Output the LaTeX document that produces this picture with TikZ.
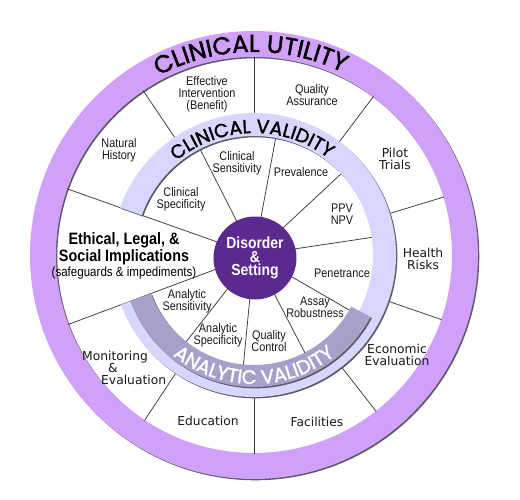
\documentclass[tikz,border=0pt]{standalone}
\usepackage{fontspec}
\usetikzlibrary{decorations.text}
\newfontfamily\arialn[FakeStretch=0.87]{Liberation Sans}
\newfontfamily\verd{DejaVu Sans}
\newfontfamily\geo[FakeBold=1.6]{Poppins}
\definecolor{utilcol}{RGB}{208,160,250}
\definecolor{valcol}{RGB}{214,214,255}
\definecolor{anacol}{RGB}{168,160,202}
\definecolor{discol}{RGB}{92,42,142}
\definecolor{spokecol}{RGB}{60,60,60}
\definecolor{shadecol}{RGB}{90,90,100}
\begin{document}
\begin{tikzpicture}[x=1pt,y=1pt,
  lab/.style={font=\arialn\fontsize{12.5}{12}\selectfont, align=center, inner sep=0pt, text=black!90},
  vlab/.style={font=\verd\fontsize{12.3}{12}\selectfont, align=center, inner sep=0pt, text=black!90},
  spoke/.style={draw=spokecol, line width=0.75pt},
  shade/.style={fill=shadecol, shift={(1.3,-1.3)}}]
\fill[white] (-254,-244) rectangle (266,255);
\useasboundingbox (-254,-244) rectangle (266,255);
% outer ring (clinical utility)
\fill[shade, even odd rule] (0,0) circle (224) (0,0) circle (198);
\fill[utilcol, even odd rule] (0,0) circle (224) (0,0) circle (198);
% spokes
\foreach \a in {124,90,53,17,-19,-52,-90,236.5} \draw[spoke] (\a:130) -- (\a:198.5);
\foreach \a in {160.5,200.5} \draw[spoke] (\a:30) -- (\a:198.5);
\foreach \a in {117,79.5,43,8.5,-30,-62.5,-95.5,232} \draw[spoke] (\a:30) -- (\a:125);
% clinical validity ring
\fill[shade] (-159.5:142) arc[start angle=-159.5, end angle=160.5, radius=142] -- (160.5:119) arc[start angle=160.5, end angle=-159.5, radius=119] -- cycle;
\fill[valcol] (-159.5:142) arc[start angle=-159.5, end angle=160.5, radius=142] -- (160.5:119) arc[start angle=160.5, end angle=-159.5, radius=119] -- cycle;
% analytic validity band
\fill[shade] (200.5:132) arc[start angle=200.5, end angle=332, radius=132] -- (332:110) arc[start angle=332, end angle=200.5, radius=110] -- cycle;
\fill[anacol] (200.5:132) arc[start angle=200.5, end angle=332, radius=132] -- (332:110) arc[start angle=332, end angle=200.5, radius=110] -- cycle;
% centre
\node[circle, fill=discol, minimum size=83pt, inner sep=0pt, font=\arialn\bfseries\fontsize{16}{13.5}\selectfont, text=white, align=center] (dis) at (1,-3) {Disorder\\\&\\Setting};
% arc titles
\path[decorate, decoration={text along path, text align=center, text={|\geo\fontsize{24.5}{24.5}\selectfont|CLINICAL UTILITY}}] (150:203) arc[start angle=150, end angle=32, radius=203];
\path[decorate, decoration={text along path, text align=center, text={|\geo\fontsize{19}{19}\selectfont|CLINICAL VALIDITY}}] (150:122) arc[start angle=150, end angle=32, radius=122];
\path[decorate, decoration={text along path, text align=center, text color=white, text={|\geo\fontsize{19.5}{19.5}\selectfont|ANALYTIC VALIDITY}}] (210:129) arc[start angle=210, end angle=330, radius=129];
% labels
\node[lab] (effint) at (-47,161) {Effective\\Intervention\\(Benefit)};
\node[lab] (qa) at (58,160) {Quality\\Assurance};
\node[lab] (nh) at (-135,105) {Natural\\History};
\node[vlab] (pt) at (141,96) {Pilot\\Trials};
\node[lab] (csens) at (-17,92) {Clinical\\Sensitivity};
\node[lab] (prev) at (47,83) {Prevalence};
\node[lab] (cspec) at (-73,56) {Clinical\\Specificity};
\node[lab] (ppv) at (88,41) {PPV\\NPV};
\node[vlab] (hr) at (169,-4) {Health\\Risks};
\node[lab] (pen) at (88,-18) {Penetrance};
\node[lab] (asens) at (-67,-46) {Analytic\\Sensitivity};
\node[lab] (assay) at (61,-52) {Assay\\Robustness};
\node[lab] (aspec) at (-36,-80) {Analytic\\Specificity};
\node[lab] (qc) at (15,-86) {Quality\\Control};
\node[vlab] (econ) at (143,-100) {Economic\\Evaluation};
\node[vlab, align=left, anchor=west] (mon) at (-172,-113) {Monitoring\\\hspace*{26pt}\&\\\hspace*{19pt}Evaluation};
\node[vlab] (edu) at (-46,-166) {Education};
\node[vlab] (fac) at (63,-167) {Facilities};
\node[align=center, inner sep=0pt, text=black, font=\arialn\bfseries\fontsize{16.5}{15}\selectfont] (eth) at (-130,-1) {Ethical, Legal, \&\\Social Implications\\{\mdseries\fontsize{13.3}{15}\selectfont(safeguards \& impediments)}};
\end{tikzpicture}
\end{document}
